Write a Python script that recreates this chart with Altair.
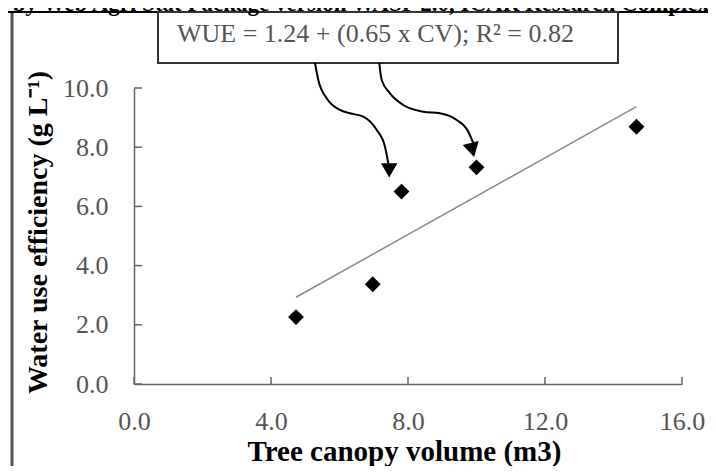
import altair as alt
import pandas as pd

# ---- data ----
canopy_volume = [4.73, 6.97, 7.81, 10.0, 14.67]
water_use_eff = [2.26, 3.37, 6.50, 7.32, 8.69]

fit_x = [4.73, 14.67]
fit_y = [2.93, 9.37]

x_ticks = [0, 4, 8, 12, 16]
y_ticks = [0, 2, 4, 6, 8, 10]

# annotation arrows (in data units)
arrow1_x = [5.285, 5.381, 5.626, 6.015, 6.307, 6.695, 7.086, 7.328, 7.425]
arrow1_y = [10.845, 10.270, 9.652, 9.257, 9.145, 9.030, 8.581, 8.017, 7.456]
arrow2_x = [7.162, 7.232, 7.474, 7.863, 8.447, 8.934, 9.422, 9.761, 9.907]
arrow2_y = [10.845, 10.270, 9.821, 9.426, 9.199, 9.145, 8.919, 8.524, 8.132]
head_x = [7.451, 9.880]
head_y = [7.220, 7.905]
head_angle = [0, 346]

equation = "WUE = 1.24 + (0.65 x CV); R² = 0.82"
top_title = "by Web Agri Stat Package version WASP 2.0, ICAR Research Complex"
x_title = "Tree canopy volume (m3)"
y_title = "Water use efficiency (g L⁻¹)"

SERIF = "Liberation Serif"
W, H = 548, 296

pts = pd.DataFrame({"x": canopy_volume, "y": water_use_eff})
fit = pd.DataFrame({"x": fit_x, "y": fit_y})
arrows = pd.DataFrame({
    "x": arrow1_x + arrow2_x,
    "y": arrow1_y + arrow2_y,
    "id": [1] * len(arrow1_x) + [2] * len(arrow2_x),
})
heads = pd.DataFrame({"x": head_x, "y": head_y, "a": head_angle})
xt = pd.DataFrame({"v": x_ticks})
yt = pd.DataFrame({"v": y_ticks})
one = alt.Data(values=[{}])

xscale = alt.Scale(domain=[0, 16], nice=False, zero=False)
yscale = alt.Scale(domain=[0, 10], nice=False, zero=False)

x_axis = alt.Axis(
    values=x_ticks, format=".1f", ticks=False, tickSize=0, grid=False,
    domainColor="#666", domainWidth=1.5, labelFlush=False, labelOverlap=False,
    labelFont=SERIF, labelFontSize=26, labelColor="#555", labelPadding=24,
    title=x_title, titleFont=SERIF, titleFontSize=29, titleFontWeight="bold",
    titleColor="black", titleX=270, titleY=76, titleBaseline="alphabetic",
)
y_axis = alt.Axis(
    values=y_ticks, format=".1f", ticks=False, tickSize=0, grid=False,
    domainColor="#666", domainWidth=1.5, labelFlush=False, labelOverlap=False,
    labelFont=SERIF, labelFontSize=26, labelColor="#555", labelPadding=26,
    title=y_title, titleFont=SERIF, titleFontSize=28, titleFontWeight="bold",
    titleColor="black", titleX=-88, titleY=144, titleBaseline="alphabetic",
    titleAngle=270,
)

points = alt.Chart(pts).mark_point(
    shape="diamond", filled=True, size=250, color="black", opacity=1
).encode(
    x=alt.X("x:Q", scale=xscale, axis=x_axis),
    y=alt.Y("y:Q", scale=yscale, axis=y_axis),
)

fit_line = alt.Chart(fit).mark_line(color="#8a8a8a", strokeWidth=1.5).encode(
    x="x:Q", y="y:Q"
)

ytick_rules = alt.Chart(yt).mark_rule(color="#666", strokeWidth=1.5).encode(
    y="v:Q", x=alt.value(0), x2=alt.value(8)
)
xtick_rules = alt.Chart(xt).mark_rule(color="#666", strokeWidth=1.5).encode(
    x="v:Q", y=alt.value(H - 7), y2=alt.value(H)
)

# frame decoration
frame_top = alt.Chart(one).mark_rule(color="black", strokeWidth=2).encode(
    x=alt.value(-134), x2=alt.value(582), y=alt.value(-76)
)
frame_left = alt.Chart(one).mark_rule(color="#555", strokeWidth=3).encode(
    x=alt.value(-122), y=alt.value(-76), y2=alt.value(390)
)
box = alt.Chart(one).mark_rect(fill="white", stroke="#333", strokeWidth=2).encode(
    x=alt.value(24), x2=alt.value(484), y=alt.value(-76), y2=alt.value(-25)
)
eq_text = alt.Chart(one).mark_text(
    align="left", baseline="alphabetic", font=SERIF, fontSize=26, color="#555"
).encode(x=alt.value(43), y=alt.value(-46), text=alt.value(equation))

title_text = alt.Chart(one).mark_text(
    align="center", baseline="alphabetic", font=SERIF, fontSize=23,
    fontWeight="bold", color="black"
).encode(x=alt.value(227), y=alt.value(-77.5), text=alt.value(top_title))

arrow_lines = alt.Chart(arrows).mark_line(
    color="black", strokeWidth=2, interpolate="monotone"
).encode(x="x:Q", y="y:Q", detail="id:N")

arrow_heads = alt.Chart(heads).mark_point(
    shape="triangle-down", filled=True, size=270, color="black", opacity=1
).encode(x="x:Q", y="y:Q", angle=alt.Angle("a:Q", scale=None))

chart = alt.layer(
    frame_left, frame_top, box, eq_text, title_text,
    fit_line, ytick_rules, xtick_rules, points, arrow_lines, arrow_heads,
).properties(
    width=W, height=H,
    padding={"left": 126, "top": 80, "right": 26, "bottom": 82},
    autosize=alt.AutoSizeParams(type="none"),
).configure_view(stroke="transparent")

chart.save("out.html", embed_options={"renderer": "svg", "actions": False})
